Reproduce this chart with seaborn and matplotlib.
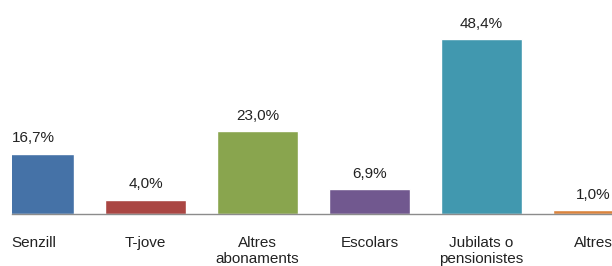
import pandas as pd
import seaborn as sns
import matplotlib.pyplot as plt

# dades
categories = ["Senzill", "T-jove", "Altres\nabonaments", "Escolars",
              "Jubilats o\npensionistes", "Altres"]
valors = [16.7, 4.0, 23.0, 6.9, 48.4, 1.0]
colors = ["#4572A7", "#AA4643", "#89A54E", "#71588F", "#4198AF", "#DB843D"]

df = pd.DataFrame({"cat": categories, "val": valors})

sns.set_style("white")
plt.rcParams['font.family'] = ['Liberation Sans', 'DejaVu Sans']

fig = plt.figure(figsize=(6.12, 2.66), dpi=100)
ax = fig.add_axes([12 / 612, 52 / 266, 600 / 612, 214 / 266])

sns.barplot(data=df, x="cat", y="val", hue="cat", palette=colors,
            legend=False, width=0.72, saturation=1, ax=ax)

# etiquetes de valor amb coma decimal
for cont, v in zip(ax.containers, valors):
    ax.bar_label(cont, labels=[f"{v:.1f}%".replace(".", ",")],
                 padding=6, fontsize=11, color="#222222")

ax.set_xlim(-0.192, 5.165)
ax.set_ylim(0, 59.2)
ax.set_xlabel("")
ax.set_ylabel("")
ax.set_yticks([])
ax.tick_params(axis="x", length=0, pad=16, labelsize=11, labelcolor="#222222")
for s in ["top", "left", "right"]:
    ax.spines[s].set_visible(False)
ax.spines["bottom"].set_color("#8C8C8C")
ax.spines["bottom"].set_linewidth(1)

fig.savefig("out.png", dpi=100)
